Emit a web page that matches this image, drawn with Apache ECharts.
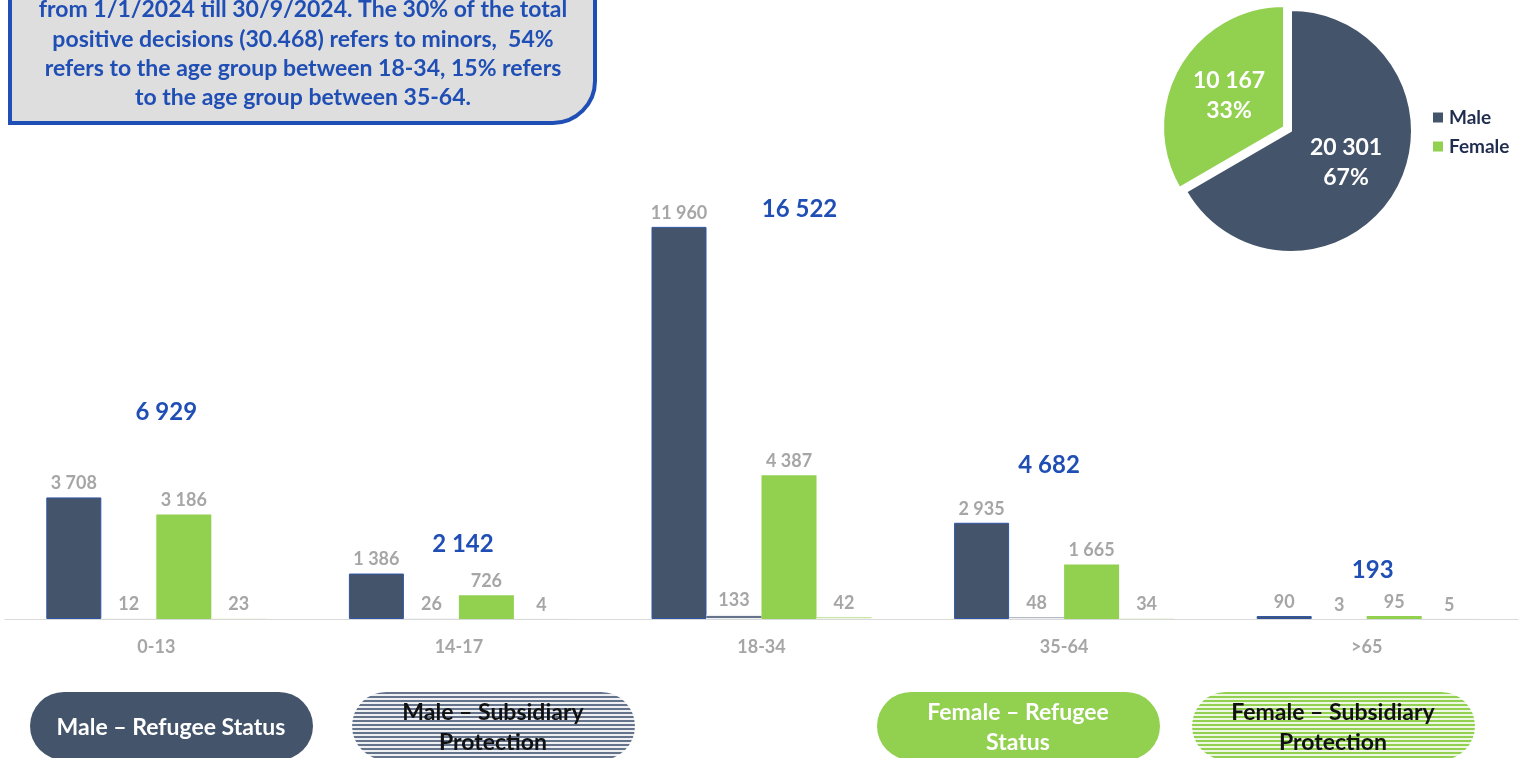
<!DOCTYPE html>
<html>
<head>
<meta charset="utf-8">
<script src="https://cdn.jsdelivr.net/npm/echarts@6/dist/echarts.min.js"></script>
<style>
  html, body { margin: 0; padding: 0; background: #fff; }
  #main { width: 1521px; height: 758px; }
</style>
</head>
<body>
<div id="main"></div>
<script>
// data
const ageGroups = ['0-13', '14-17', '18-34', '35-64', '>65'];
const maleRefugee = [3708, 1386, 11960, 2935, 90];
const maleSubsidiary = [12, 26, 133, 48, 3];
const femaleRefugee = [3186, 726, 4387, 1665, 95];
const femaleSubsidiary = [23, 4, 42, 34, 5];
const genderNames = ['Male', 'Female'];
const genderTotals = [20301, 10167];
const noteLines = [
  'from 1/1/2024 till 30/9/2024. The 30% of the total',
  'positive decisions (30.468) refers to minors,  54%',
  'refers to the age group between 18-34, 15% refers',
  'to the age group between 35-64.'
];

// style / layout
const NAVY = '#44546a';
const GREEN = '#92d050';
const GREY = '#a6a6a6';
const BLUE = '#1f4eb4';
const FONT = 'Lato, "Noto Sans", sans-serif';
// pixel offsets of the blue total labels from each category centre on the axis
const totalOffsets = [[10, -207], [4, -75], [38, -410], [-15, -154], [6, -49]];

function fmt(v) {
  return String(v).replace(/\B(?=(\d{3})+(?!\d))/g, ' ');
}

function stripes(dark, light) {
  const c = document.createElement('canvas');
  c.width = 4; c.height = 4;
  const ctx = c.getContext('2d');
  ctx.fillStyle = light; ctx.fillRect(0, 0, 4, 4);
  ctx.fillStyle = dark; ctx.fillRect(0, 0, 4, 2);
  return c;
}
const navyStripe = { image: stripes('#66748b', '#eef0f4'), repeat: 'repeat' };
const greenStripe = { image: stripes(GREEN, '#eef7e4'), repeat: 'repeat' };

const totals = ageGroups.map((_, i) =>
  maleRefugee[i] + maleSubsidiary[i] + femaleRefugee[i] + femaleSubsidiary[i]);

const chart = echarts.init(document.getElementById('main'));

const barLabel = {
  show: true,
  position: 'top',
  distance: 5,
  color: GREY,
  fontWeight: 'bold',
  fontSize: 18,
  fontFamily: FONT,
  formatter: p => fmt(p.value)
};

function pill(x, fill, text, textColor) {
  return {
    type: 'group',
    left: x,
    top: 692,
    children: [
      { type: 'rect', shape: { x: 0, y: 0, width: 283, height: 68, r: 34 }, style: { fill: fill } },
      {
        type: 'text', x: 141, y: 36,
        style: {
          text: text, fill: textColor, align: 'center', verticalAlign: 'middle',
          font: 'bold 23px ' + FONT, lineHeight: 30
        }
      }
    ]
  };
}

const option = {
  animation: false,
  textStyle: { fontFamily: FONT },
  grid: { left: 5, right: 3, top: 160, bottom: 139 },
  xAxis: {
    type: 'category',
    data: ageGroups,
    axisLine: { lineStyle: { color: '#d9d9d9' } },
    axisTick: { length: 7, lineStyle: { color: '#d9d9d9' } },
    axisLabel: { color: GREY, fontWeight: 'bold', fontSize: 18, margin: 19 }
  },
  yAxis: { type: 'value', min: 0, max: 14000, show: false },
  legend: {
    data: genderNames,
    orient: 'vertical',
    left: 1426,
    top: 103,
    itemWidth: 12,
    itemHeight: 12,
    itemGap: 10,
    icon: 'rect',
    textStyle: { color: '#1f2d4f', fontWeight: 'bold', fontSize: 19 }
  },
  series: [
    {
      name: 'Male – Refugee Status', type: 'bar', data: maleRefugee,
      barWidth: 55, barGap: '0%',
      itemStyle: { color: NAVY, borderColor: '#2f55a4', borderWidth: 1 },
      label: barLabel
    },
    {
      name: 'Male – Subsidiary Protection', type: 'bar', data: maleSubsidiary,
      barWidth: 55, barGap: '0%',
      itemStyle: { color: navyStripe },
      label: barLabel
    },
    {
      name: 'Female – Refugee Status', type: 'bar', data: femaleRefugee,
      barWidth: 55, barGap: '0%',
      itemStyle: { color: GREEN },
      label: barLabel
    },
    {
      name: 'Female – Subsidiary Protection', type: 'bar', data: femaleSubsidiary,
      barWidth: 55, barGap: '0%',
      itemStyle: { color: greenStripe },
      label: barLabel
    },
    {
      name: 'Total', type: 'custom',
      data: totals.map((t, i) => [i, t]),
      z: 5,
      renderItem: function (params, api) {
        const i = api.value(0);
        const p = api.coord([i, 0]);
        const off = totalOffsets[i];
        return {
          type: 'text',
          x: p[0] + off[0],
          y: p[1] + off[1],
          style: {
            text: fmt(api.value(1)),
            fill: BLUE,
            align: 'center',
            verticalAlign: 'middle',
            font: 'bold 24px ' + FONT
          }
        };
      }
    },
    {
      name: 'Gender', type: 'pie',
      center: [1291, 131],
      radius: 121,
      startAngle: 90,
      selectedMode: 'single',
      selectedOffset: 8,
      itemStyle: { borderColor: '#fff', borderWidth: 2 },
      label: {
        show: true,
        position: 'inside',
        color: '#fff',
        fontWeight: 'bold',
        fontSize: 23,
        lineHeight: 30,
        formatter: p => fmt(p.value) + '\n' + Math.round(p.percent) + '%'
      },
      labelLine: { show: false },
      data: genderNames.map((n, i) => ({
        name: n,
        value: genderTotals[i],
        selected: i === 1,
        itemStyle: { color: i === 0 ? NAVY : GREEN }
      }))
    }
  ],
  graphic: [
    {
      type: 'rect',
      shape: { x: 10, y: -60, width: 585, height: 183, r: [0, 0, 42, 0] },
      style: { fill: '#dedede', stroke: BLUE, lineWidth: 4 }
    },
    ...noteLines.map((t, i) => ({
      type: 'text',
      x: 303, y: 10 + i * 29.3,
      style: {
        text: t, fill: BLUE, align: 'center', verticalAlign: 'middle',
        font: 'bold 23px ' + FONT
      }
    })),
    pill(30, NAVY, 'Male – Refugee Status', '#fff'),
    pill(352, navyStripe, 'Male – Subsidiary\nProtection', '#111'),
    pill(877, GREEN, 'Female – Refugee\nStatus', '#fff'),
    pill(1192, greenStripe, 'Female – Subsidiary\nProtection', '#111')
  ]
};

chart.setOption(option);
</script>
</body>
</html>
